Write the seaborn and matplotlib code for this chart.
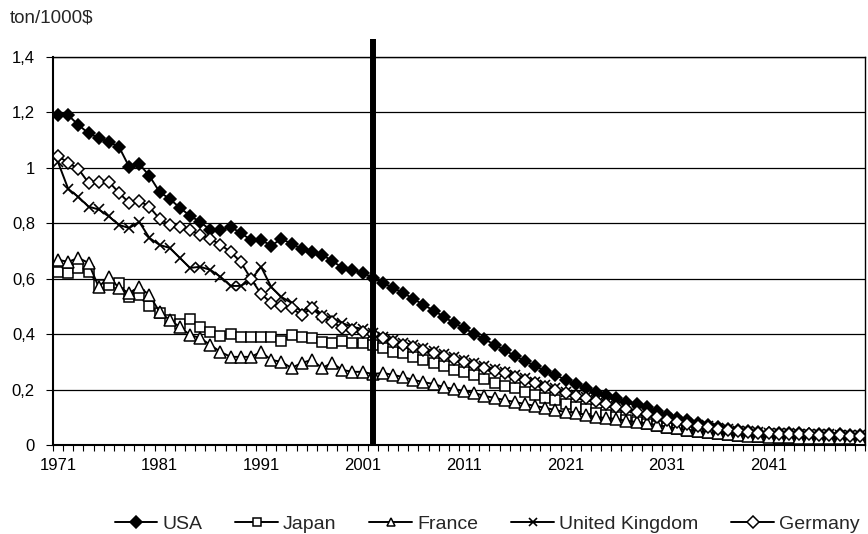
import numpy as np
import pandas as pd
import matplotlib
matplotlib.use("Agg")
import matplotlib.pyplot as plt
import seaborn as sns
from matplotlib.ticker import FixedLocator, FuncFormatter

years = list(range(1971, 2051))

usa = [1.190, 1.190, 1.155, 1.125, 1.108, 1.094, 1.076, 1.004, 1.014, 0.971,
       0.913, 0.888, 0.856, 0.827, 0.805, 0.776, 0.776, 0.787, 0.765, 0.740,
       0.740, 0.719, 0.744, 0.726, 0.707, 0.696, 0.686, 0.665, 0.639, 0.632,
       0.621, 0.603, 0.585, 0.567, 0.549, 0.527, 0.506, 0.485, 0.463, 0.440,
       0.422, 0.400, 0.383, 0.361, 0.343, 0.321, 0.303, 0.285, 0.267, 0.253,
       0.235, 0.220, 0.206, 0.191, 0.180, 0.170, 0.155, 0.148, 0.137, 0.122,
       0.110, 0.099, 0.089, 0.080, 0.072, 0.065, 0.059, 0.054, 0.050, 0.047,
       0.045, 0.044, 0.043, 0.042, 0.041, 0.040, 0.039, 0.038, 0.037, 0.036]

japan = [0.625, 0.620, 0.640, 0.625, 0.578, 0.578, 0.585, 0.534, 0.541, 0.502,
         0.477, 0.451, 0.437, 0.455, 0.426, 0.408, 0.393, 0.400, 0.390, 0.390,
         0.390, 0.390, 0.375, 0.397, 0.390, 0.386, 0.372, 0.368, 0.375, 0.368,
         0.368, 0.361, 0.350, 0.336, 0.332, 0.318, 0.307, 0.296, 0.285, 0.271,
         0.264, 0.253, 0.238, 0.224, 0.213, 0.206, 0.191, 0.180, 0.170, 0.162,
         0.148, 0.137, 0.130, 0.116, 0.108, 0.101, 0.090, 0.083, 0.076, 0.068,
         0.062, 0.056, 0.051, 0.046, 0.042, 0.038, 0.035, 0.033, 0.031, 0.029,
         0.028, 0.027, 0.026, 0.025, 0.025, 0.024, 0.024, 0.023, 0.023, 0.022]

france = [0.668, 0.661, 0.675, 0.657, 0.570, 0.607, 0.567, 0.549, 0.570, 0.541,
          0.480, 0.451, 0.426, 0.397, 0.386, 0.361, 0.336, 0.318, 0.318, 0.318,
          0.336, 0.307, 0.300, 0.278, 0.296, 0.307, 0.278, 0.296, 0.271, 0.264,
          0.264, 0.256, 0.260, 0.253, 0.245, 0.235, 0.227, 0.220, 0.209, 0.202,
          0.195, 0.188, 0.177, 0.170, 0.162, 0.155, 0.148, 0.141, 0.134, 0.126,
          0.119, 0.116, 0.108, 0.101, 0.097, 0.094, 0.087, 0.083, 0.078, 0.072,
          0.066, 0.060, 0.055, 0.050, 0.046, 0.042, 0.039, 0.036, 0.034, 0.032,
          0.030, 0.029, 0.028, 0.027, 0.026, 0.025, 0.025, 0.024, 0.024, 0.023]

uk = [1.020, 0.924, 0.895, 0.860, 0.850, 0.825, 0.794, 0.783, 0.805, 0.747,
      0.722, 0.711, 0.675, 0.639, 0.643, 0.632, 0.607, 0.574, 0.574, 0.596,
      0.643, 0.570, 0.534, 0.513, 0.480, 0.502, 0.469, 0.458, 0.440, 0.426,
      0.419, 0.404, 0.390, 0.378, 0.368, 0.361, 0.350, 0.339, 0.329, 0.318,
      0.307, 0.296, 0.285, 0.274, 0.264, 0.253, 0.242, 0.227, 0.217, 0.206,
      0.191, 0.180, 0.173, 0.162, 0.152, 0.141, 0.134, 0.122, 0.116, 0.105,
      0.096, 0.088, 0.080, 0.073, 0.067, 0.061, 0.056, 0.052, 0.049, 0.046,
      0.044, 0.043, 0.042, 0.041, 0.040, 0.039, 0.038, 0.037, 0.036, 0.035]

germany = [1.043, 1.018, 0.996, 0.946, 0.950, 0.950, 0.910, 0.874, 0.881, 0.859,
           0.816, 0.794, 0.787, 0.776, 0.758, 0.744, 0.722, 0.697, 0.660, 0.600,
           0.545, 0.513, 0.502, 0.494, 0.469, 0.494, 0.462, 0.444, 0.422, 0.415,
           0.408, 0.400, 0.385, 0.372, 0.362, 0.354, 0.343, 0.332, 0.322, 0.311,
           0.300, 0.290, 0.279, 0.268, 0.258, 0.247, 0.236, 0.222, 0.211, 0.200,
           0.186, 0.176, 0.168, 0.157, 0.147, 0.137, 0.129, 0.118, 0.111, 0.101,
           0.092, 0.084, 0.077, 0.070, 0.064, 0.058, 0.054, 0.050, 0.047, 0.044,
           0.042, 0.041, 0.040, 0.039, 0.038, 0.037, 0.036, 0.035, 0.034, 0.033]

series_names = ["USA", "Japan", "France", "United Kingdom", "Germany"]
series_values = [usa, japan, france, uk, germany]
divider_year = 2002
x_tick_labels = list(range(1971, 2042, 10))
y_ticks = [0, 0.2, 0.4, 0.6, 0.8, 1.0, 1.2, 1.4]

df = pd.DataFrame({"year": years})
for n, v in zip(series_names, series_values):
    df[n] = v
long = df.melt(id_vars="year", var_name="country", value_name="value")

sns.set_theme(style="white")
plt.rcParams["font.family"] = ["Liberation Sans", "DejaVu Sans"]

fig = plt.figure(figsize=(8.68, 5.34), dpi=100)
ax = fig.add_axes([53 / 868, 1 - 445 / 534, (865 - 53) / 868, (445 - 57) / 534])

styles = {
    "USA": dict(marker="D", mfc="black", ms=6.5),
    "Japan": dict(marker="s", mfc="white", ms=7),
    "France": dict(marker="^", mfc="white", ms=8),
    "United Kingdom": dict(marker="x", mfc="black", ms=7.5, mew=1.2),
    "Germany": dict(marker="D", mfc="white", ms=6.5),
}

for name in series_names:
    sub = long[long["country"] == name]
    st = dict(styles[name])
    mew = st.pop("mew", 1.1)
    sns.lineplot(data=sub, x="year", y="value", ax=ax, color="black", lw=1.4,
                 marker=st["marker"], markerfacecolor=st["mfc"], markeredgecolor="black",
                 markersize=st["ms"], markeredgewidth=mew, label=name, legend=False)

# vertical divider line
ax.plot([divider_year, divider_year], [0, 1.465], color="black", lw=4.3,
        clip_on=False, zorder=5, solid_capstyle="butt")

ax.set_xlim(1970.5, 2050.5)
ax.set_ylim(0, 1.4)
ax.set_xlabel("")
ax.set_ylabel("")

ax.yaxis.set_major_locator(FixedLocator(y_ticks))
ax.yaxis.set_major_formatter(FuncFormatter(lambda v, p: ("%g" % round(v, 1)).replace(".", ",")))
ax.grid(axis="y", color="black", lw=0.9)
ax.set_axisbelow(True)

ax.xaxis.set_major_locator(FixedLocator(x_tick_labels))
ax.xaxis.set_major_formatter(FuncFormatter(lambda v, p: "%d" % v))
ax.xaxis.set_minor_locator(FixedLocator(np.arange(1970.5, 2051, 1)))
ax.tick_params(axis="x", which="major", length=0, pad=9, labelsize=12, colors="black")
ax.tick_params(axis="x", which="minor", length=4, width=0.8, color="black", direction="out", bottom=True)
ax.tick_params(axis="y", which="major", length=5, width=0.8, color="black", direction="out", left=True,
               labelsize=12, pad=8, colors="black")

for s in ["left", "bottom"]:
    ax.spines[s].set_color("black")
    ax.spines[s].set_linewidth(1.5)
for s in ["top", "right"]:
    ax.spines[s].set_color("black")
    ax.spines[s].set_linewidth(1.0)

fig.text(10 / 868, 1 - 18.5 / 534, "ton/1000$", fontsize=13.5, va="center", ha="left")

handles, labels = ax.get_legend_handles_labels()
leg = fig.legend(handles, labels, loc="center", bbox_to_anchor=(487 / 868, 1 - 524 / 534),
                 ncol=5, frameon=False, fontsize=14, handlelength=2.2, columnspacing=1.7,
                 handletextpad=0.25, borderaxespad=0)
for h in leg.legend_handles:
    h.set_markersize(6)

fig.savefig("out.png", dpi=100)
